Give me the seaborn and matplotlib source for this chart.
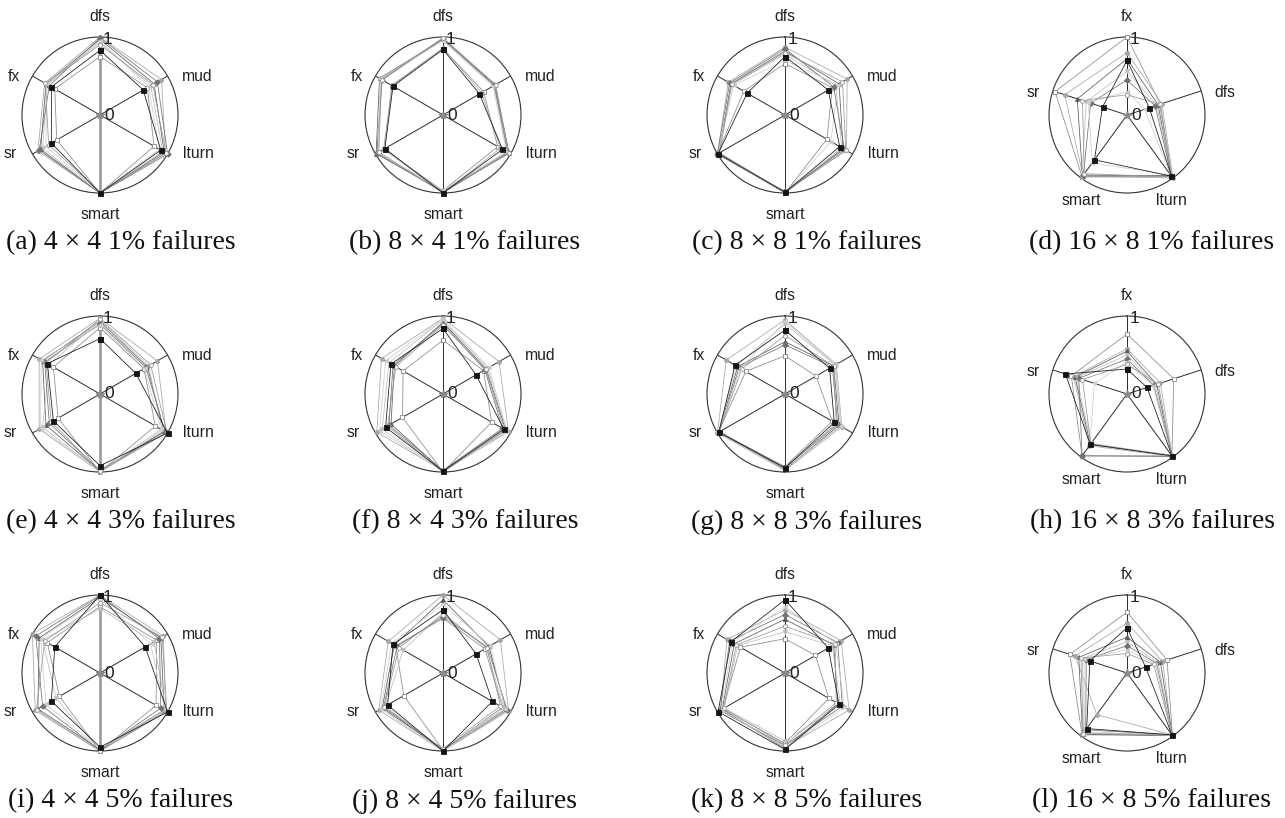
import numpy as np
import pandas as pd
import matplotlib
matplotlib.use("Agg")
import matplotlib.pyplot as plt
import seaborn as sns

sns.set_theme(style="white")
plt.rcParams["font.family"] = ["Liberation Sans", "DejaVu Sans"]

# Benchmark axes (clockwise from the top)
hex_axes = ["dfs", "mud", "lturn", "smart", "sr", "fx"]
pent_axes = ["fx", "dfs", "lturn", "smart", "sr"]

series_names = ["s0", "s1", "s2", "s3", "s4", "s5", "s6", "s7"]

# Normalised scores, one row per series, one column per axis
mesh4x4_f1 = [
    [0.83, 0.64, 0.90, 1.00, 0.72, 0.72],
    [0.75, 0.70, 0.80, 1.00, 0.64, 0.67],
    [1.00, 0.91, 0.97, 1.00, 0.92, 0.82],
    [0.97, 0.80, 0.95, 1.00, 0.88, 0.80],
    [0.93, 0.75, 0.93, 1.00, 0.85, 0.78],
    [0.99, 0.85, 1.00, 1.00, 0.90, 0.75],
    [0.95, 0.72, 0.88, 1.00, 0.80, 0.79],
    [0.90, 0.78, 0.98, 0.99, 0.76, 0.81],
]
mesh8x4_f1 = [
    [0.84, 0.54, 0.88, 1.00, 0.86, 0.74],
    [0.85, 0.60, 0.81, 0.97, 0.88, 0.75],
    [0.86, 0.57, 0.85, 1.00, 0.87, 0.76],
    [0.97, 0.77, 0.98, 0.98, 0.99, 0.94],
    [0.96, 0.75, 0.95, 0.96, 0.97, 0.92],
    [0.98, 0.76, 0.96, 0.99, 0.98, 0.90],
    [0.95, 0.74, 0.94, 0.97, 0.96, 0.93],
    [0.99, 0.78, 0.97, 1.00, 0.95, 0.91],
]
mesh8x8_f1 = [
    [0.75, 0.64, 0.81, 0.99, 0.99, 0.56],
    [0.66, 0.70, 0.62, 1.00, 1.00, 0.61],
    [0.87, 0.92, 0.91, 0.98, 1.00, 0.84],
    [0.82, 0.80, 0.86, 1.00, 0.98, 0.80],
    [0.78, 0.75, 0.84, 0.99, 0.99, 0.78],
    [0.85, 0.72, 0.88, 0.98, 1.00, 0.82],
    [0.70, 0.78, 0.68, 1.00, 0.99, 0.76],
    [0.80, 0.85, 0.90, 0.99, 0.97, 0.79],
]
mesh16x8_f1 = [
    [0.70, 0.30, 0.97, 0.71, 0.33],
    [1.00, 0.45, 0.98, 0.98, 0.97],
    [0.80, 0.47, 1.00, 0.96, 0.84],
    [0.72, 0.42, 0.96, 0.97, 0.67],
    [0.56, 0.40, 0.99, 0.98, 0.55],
    [0.45, 0.38, 0.97, 0.95, 0.49],
    [0.30, 0.24, 0.95, 0.76, 0.52],
    [0.26, 0.44, 0.98, 0.93, 0.60],
]
mesh4x4_f3 = [
    [0.71, 0.53, 1.00, 0.92, 0.69, 0.78],
    [0.85, 0.65, 0.82, 1.00, 0.62, 0.69],
    [0.97, 0.85, 0.98, 1.00, 0.90, 0.90],
    [0.93, 0.70, 0.95, 0.99, 0.80, 0.85],
    [0.95, 0.72, 0.92, 1.00, 0.85, 0.75],
    [0.90, 0.68, 0.96, 0.98, 0.75, 0.82],
    [0.88, 0.66, 0.90, 1.00, 0.88, 0.87],
    [0.96, 0.75, 0.99, 0.99, 0.72, 0.80],
]
mesh8x4_f3 = [
    [0.84, 0.49, 0.90, 0.99, 0.85, 0.77],
    [0.69, 0.60, 0.72, 1.00, 0.60, 0.59],
    [0.97, 0.83, 0.97, 0.98, 0.98, 0.91],
    [0.92, 0.64, 0.93, 0.99, 0.77, 0.72],
    [0.95, 0.66, 0.95, 1.00, 0.90, 0.80],
    [0.90, 0.62, 0.88, 0.98, 0.80, 0.74],
    [0.96, 0.68, 0.94, 0.99, 0.94, 0.85],
    [0.88, 0.63, 0.91, 1.00, 0.82, 0.70],
]
mesh8x8_f3 = [
    [0.82, 0.66, 0.73, 0.95, 0.98, 0.74],
    [0.49, 0.46, 0.70, 0.93, 0.99, 0.58],
    [0.95, 0.76, 0.84, 0.98, 1.00, 0.87],
    [0.67, 0.72, 0.80, 0.97, 0.98, 0.70],
    [0.90, 0.74, 0.82, 0.96, 0.99, 0.72],
    [0.63, 0.70, 0.78, 0.94, 0.97, 0.68],
    [0.93, 0.75, 0.83, 0.98, 0.99, 0.66],
    [0.75, 0.72, 0.76, 0.95, 0.98, 0.64],
]
mesh16x8_f3 = [
    [0.32, 0.27, 0.98, 0.80, 0.83],
    [0.77, 0.63, 0.98, 0.98, 0.75],
    [0.58, 0.45, 0.99, 0.82, 0.72],
    [0.55, 0.40, 0.97, 0.80, 0.70],
    [0.50, 0.38, 0.98, 0.78, 0.68],
    [0.45, 0.36, 0.99, 0.98, 0.65],
    [0.41, 0.35, 0.97, 0.81, 0.44],
    [0.38, 0.42, 0.98, 0.79, 0.60],
]
mesh4x4_f5 = [
    [1.00, 0.67, 1.00, 0.95, 0.72, 0.67],
    [0.85, 0.84, 0.83, 1.00, 0.60, 0.78],
    [1.00, 0.94, 0.97, 1.00, 0.96, 1.00],
    [0.97, 0.90, 0.95, 0.98, 0.92, 0.90],
    [0.82, 0.80, 0.98, 1.00, 0.65, 0.85],
    [0.99, 0.88, 0.90, 0.99, 0.85, 0.95],
    [0.95, 0.75, 0.96, 0.97, 0.80, 0.88],
    [0.90, 0.92, 0.99, 1.00, 0.94, 0.82],
]
mesh8x4_f5 = [
    [0.81, 0.49, 0.73, 1.00, 0.82, 0.74],
    [0.70, 0.62, 0.88, 0.99, 0.58, 0.70],
    [1.00, 0.85, 0.97, 1.00, 0.95, 0.81],
    [0.94, 0.68, 0.93, 0.98, 0.90, 0.72],
    [0.77, 0.64, 0.90, 1.00, 0.85, 0.59],
    [0.72, 0.66, 0.95, 0.99, 0.88, 0.68],
    [0.88, 0.70, 0.92, 1.00, 0.92, 0.76],
    [0.75, 0.65, 0.85, 0.97, 0.87, 0.65],
]
mesh8x8_f5 = [
    [0.94, 0.64, 0.80, 0.98, 0.99, 0.80],
    [0.44, 0.45, 0.65, 0.90, 0.92, 0.66],
    [0.81, 0.83, 0.95, 0.95, 0.95, 0.86],
    [0.69, 0.72, 0.78, 0.97, 0.93, 0.75],
    [0.53, 0.70, 0.82, 0.87, 0.90, 0.70],
    [0.75, 0.78, 0.85, 0.93, 0.96, 0.82],
    [0.85, 0.75, 0.88, 0.96, 0.94, 0.78],
    [0.60, 0.74, 0.76, 0.92, 0.91, 0.72],
]
mesh16x8_f5 = [
    [0.58, 0.25, 0.98, 0.88, 0.50],
    [0.78, 0.54, 0.99, 0.98, 0.77],
    [0.64, 0.48, 0.98, 0.66, 0.70],
    [0.46, 0.45, 0.99, 0.97, 0.65],
    [0.40, 0.42, 0.97, 0.95, 0.60],
    [0.35, 0.40, 0.98, 0.90, 0.55],
    [0.30, 0.38, 0.99, 0.93, 0.58],
    [0.25, 0.36, 0.98, 0.96, 0.62],
]

captions = [
    "(a) 4 \u00d7 4 1% failures", "(b) 8 \u00d7 4 1% failures",
    "(c) 8 \u00d7 8 1% failures", "(d) 16 \u00d7 8 1% failures",
    "(e) 4 \u00d7 4 3% failures", "(f) 8 \u00d7 4 3% failures",
    "(g) 8 \u00d7 8 3% failures", "(h) 16 \u00d7 8 3% failures",
    "(i) 4 \u00d7 4 5% failures", "(j) 8 \u00d7 4 5% failures",
    "(k) 8 \u00d7 8 5% failures", "(l) 16 \u00d7 8 5% failures",
]
panel_values = [
    mesh4x4_f1, mesh8x4_f1, mesh8x8_f1, mesh16x8_f1,
    mesh4x4_f3, mesh8x4_f3, mesh8x8_f3, mesh16x8_f3,
    mesh4x4_f5, mesh8x4_f5, mesh8x8_f5, mesh16x8_f5,
]

# Series styling: grey shades, marker shapes, hollow markers
palette = ["#151515", "#8a8a8a", "#a6a6a6", "#5c5c5c",
           "#bdbdbd", "#727272", "#cdcdcd", "#979797"]
markers = ["s", "s", "o", "^", "v", "D", "<", "o"]
hollow = {1, 7}

# Label placement (in units of the outer radius) for each layout
hex_label_pos = {
    "dfs": (0.0, 1.26, "center"), "mud": (1.05, 0.49, "left"),
    "lturn": (1.06, -0.49, "left"), "smart": (0.0, -1.28, "center"),
    "sr": (-1.06, -0.49, "right"), "fx": (-1.02, 0.49, "right"),
}
pent_label_pos = {
    "fx": (0.0, 1.26, "center"), "dfs": (1.12, 0.29, "left"),
    "lturn": (0.57, -1.09, "center"), "smart": (-0.58, -1.09, "center"),
    "sr": (-1.12, 0.29, "right"),
}

W, H = 1285, 818
R = 78
col_x = [100, 443, 785, 1127]
row_y = [115, 394, 673]
cap_x = [121, 465, 807, 1152]
cap_dy = 128

fig = plt.figure(figsize=(W / 100, H / 100), dpi=100)

for idx, (cap, vals) in enumerate(zip(captions, panel_values)):
    r_i, c_i = divmod(idx, 4)
    cx, cy = col_x[c_i], row_y[r_i]
    axes_names = pent_axes if c_i == 3 else hex_axes
    label_pos = pent_label_pos if c_i == 3 else hex_label_pos
    n = len(axes_names)

    ax = fig.add_axes([(cx - R) / W, 1 - (cy + R) / H, 2 * R / W, 2 * R / H],
                      projection="polar")
    ax.set_theta_offset(np.pi / 2)
    ax.set_theta_direction(-1)

    thetas = np.linspace(0, 2 * np.pi, n, endpoint=False)

    # spokes
    for k, t in enumerate(thetas):
        vertical = (c_i == 0) and axes_names[k] in ("dfs", "smart")
        ax.plot([t, t], [0, 1], color="#9a9a9a" if vertical else "#2b2b2b",
                lw=1.9 if vertical else 0.7, zorder=1, solid_capstyle="butt")

    rows = []
    for s, series in zip(series_names, vals):
        closed = list(series) + [series[0]]
        th = list(thetas) + [2 * np.pi]
        for order, (t, v) in enumerate(zip(th, closed)):
            rows.append({"series": s, "order": order, "theta": t, "r": v})
    df = pd.DataFrame(rows)

    n_before = len(ax.lines)
    sns.lineplot(data=df, x="theta", y="r", hue="series", style="series",
                 hue_order=series_names, style_order=series_names,
                 palette=palette, markers=markers, dashes=False, sort=False,
                 estimator=None, legend=False, linewidth=0.55,
                 markersize=2.8, ax=ax, zorder=3)
    new_lines = ax.lines[n_before:]
    for j, line in enumerate(new_lines):
        col = line.get_color()
        line.set_markeredgecolor(col)
        line.set_markeredgewidth(0.6)
        line.set_clip_on(False)
        if j in hollow:
            line.set_markerfacecolor("white")
        if j == 0:
            line.set_zorder(5)
            line.set_markersize(3.6)

    ax.plot([0], [0], marker="*", color="#8a8a8a", ms=6, zorder=6, clip_on=False)

    ax.set_ylim(0, 1)
    ax.set_xticks([])
    ax.set_yticks([])
    ax.grid(False)
    ax.set_xlabel("")
    ax.set_ylabel("")
    ax.spines["polar"].set_linewidth(0.8)
    ax.spines["polar"].set_color("#333333")

    for name in axes_names:
        ox, oy, ha = label_pos[name]
        ax.text(0.5 + ox / 2, 0.5 + oy / 2, name, transform=ax.transAxes,
                ha=ha, va="center", fontsize=11.3, color="#222222")
    ax.text(0.515, 0.985, "1", transform=ax.transAxes, ha="left",
            va="center", fontsize=12.5, color="#222222")
    ax.text(0.53, 0.5, "0", transform=ax.transAxes, ha="left",
            va="center", fontsize=12.5, color="#222222")

    fig.text(cap_x[c_i] / W, 1 - (cy + cap_dy) / H, cap,
             ha="center", va="center", fontsize=20,
             family=["Liberation Serif", "DejaVu Serif"], color="#111111")

fig.savefig("out.png", dpi=100, facecolor="white")
